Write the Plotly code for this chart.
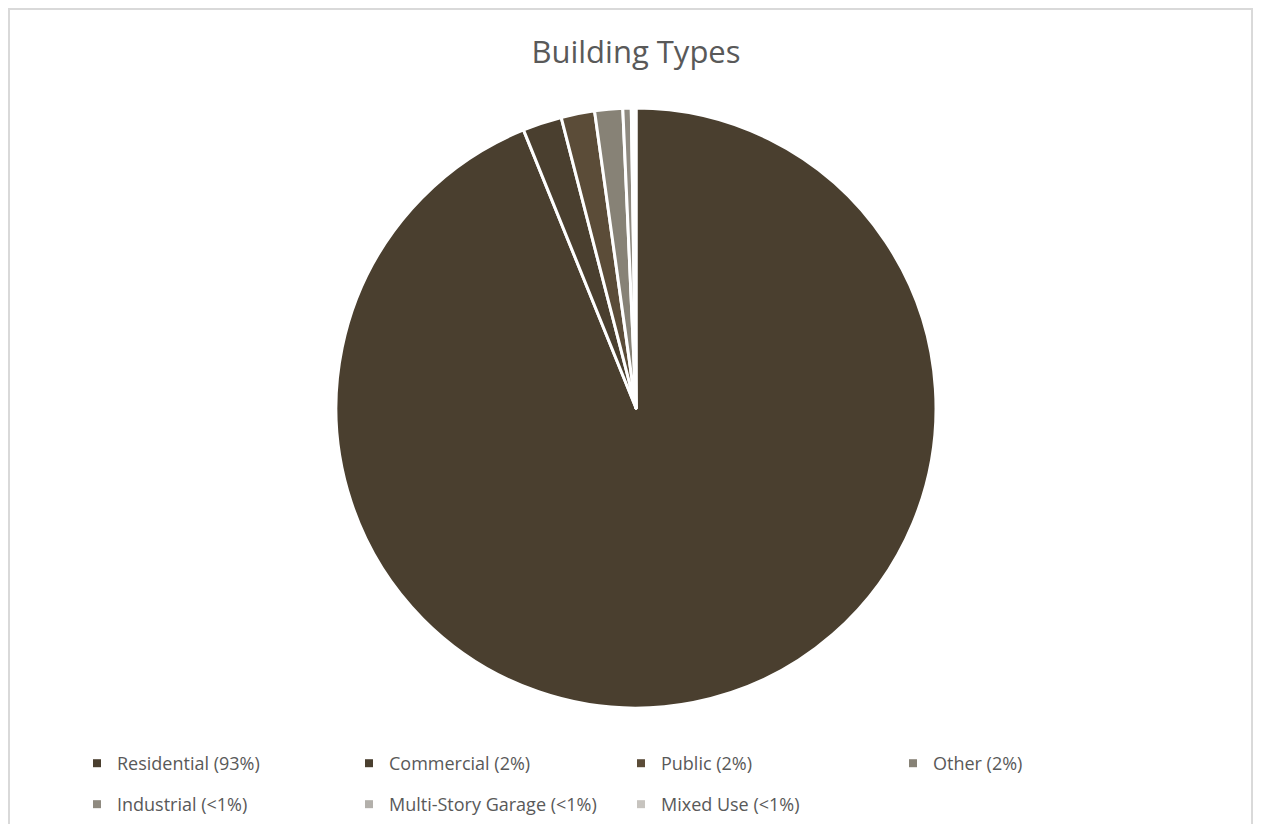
"""
Building Types pie chart
"""
import plotly.graph_objects as go

CATEGORIES = ["Residential", "Commercial", "Public", "Other",
              "Industrial", "Multi-Story Garage", "Mixed Use"]
SHARE_LABELS = ["93%", "2%", "2%", "2%", "<1%", "<1%", "<1%"]
VALUES = [93.6, 2.1, 1.8, 1.5, 0.45, 0.15, 0.1]
COLORS = ["#4a3f2f", "#4a3f2f", "#5b4c38", "#878276",
          "#8f8a80", "#b3b0ab", "#c7c4bf"]

legend_names = [f"{c} ({s})" for c, s in zip(CATEGORIES, SHARE_LABELS)]

fig = go.Figure()

# Pie
fig.add_trace(go.Pie(
    labels=legend_names, values=VALUES,
    marker=dict(colors=COLORS, line=dict(color="white", width=3)),
    sort=False, direction="clockwise", rotation=0,
    textinfo="none", hoverinfo="label+percent",
    showlegend=False,
))

# Legend entries (Excel-style two rows, four columns)
for i, (name, color) in enumerate(zip(legend_names, COLORS)):
    fig.add_trace(go.Scatter(
        x=[None], y=[None], mode="markers", name=name,
        marker=dict(symbol="square", size=8, color=color),
        legend="legend" if i < 4 else "legend2",
        hoverinfo="skip",
    ))

legend_style = dict(
    orientation="h", xanchor="left", yanchor="top",
    xref="container", yref="container",
    entrywidth=227, entrywidthmode="pixels",
    font=dict(family="Open Sans", size=18, color="#595959"),
    traceorder="normal", bgcolor="rgba(0,0,0,0)",
)

fig.update_layout(
    width=1245, height=816,
    title=dict(text="Building Types", xref="container", x=0.5044, xanchor="center",
               y=0.946, yanchor="middle",
               font=dict(family="Open Sans", size=31, color="#595959")),
    font=dict(family="Open Sans", color="#595959"),
    paper_bgcolor="white",
    plot_bgcolor="white",
    margin=dict(l=50, r=39, t=100, b=116),
    xaxis=dict(visible=False),
    yaxis=dict(visible=False),
    legend=dict(x=0.0554, y=0.0968, **legend_style),
    legend2=dict(x=0.0554, y=0.0466, **legend_style),
    shapes=[dict(type="rect", xref="paper", yref="paper",
                 x0=-0.0424, x1=1.0329, y0=-0.3, y1=1.165,
                 line=dict(color="#d9d9d9", width=2), fillcolor="rgba(0,0,0,0)")],
)

fig.write_html("out.html")
